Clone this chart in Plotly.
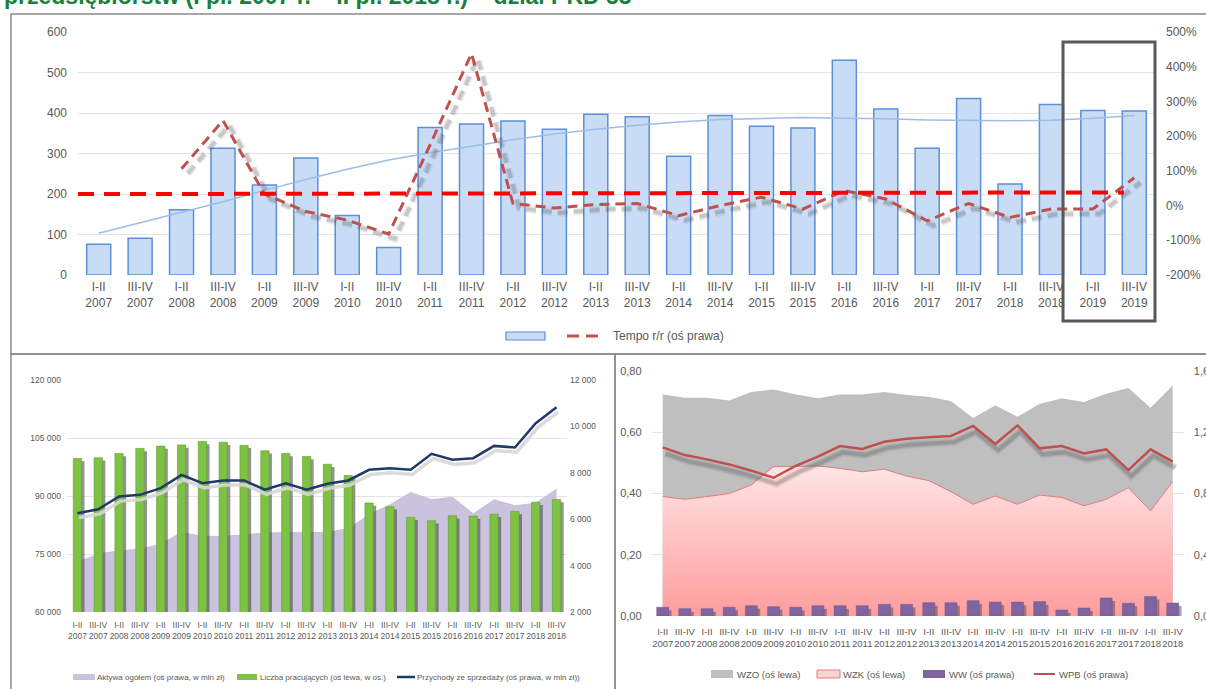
import plotly.graph_objects as go

W, H = 1206, 689


def px(x):
    return x / W


def py(y):
    return 1 - y / H


def shifted(vals, d):
    return [None if v is None else v + d for v in vals]


# ---------------- top panel: half-year values 2007-2019 ----------------
labels_top = ["I-II<br>2007", "III-IV<br>2007", "I-II<br>2008", "III-IV<br>2008", "I-II<br>2009",
              "III-IV<br>2009", "I-II<br>2010", "III-IV<br>2010", "I-II<br>2011", "III-IV<br>2011",
              "I-II<br>2012", "III-IV<br>2012", "I-II<br>2013", "III-IV<br>2013", "I-II<br>2014",
              "III-IV<br>2014", "I-II<br>2015", "III-IV<br>2015", "I-II<br>2016", "III-IV<br>2016",
              "I-II<br>2017", "III-IV<br>2017", "I-II<br>2018", "III-IV<br>2018", "I-II<br>2019",
              "III-IV<br>2019"]
values_top = [76, 91, 161, 313, 222, 289, 147, 68, 364, 373, 380, 360, 397, 391, 293, 394,
              367, 363, 530, 410, 313, 436, 225, 421, 406, 405]
trend_top = [103, 129, 155, 181, 209, 236, 261, 284, 302, 318, 334, 348, 360, 370, 378, 384,
             387, 389, 387, 386, 383, 382, 381, 382, 387, 394]
tempo_rr = [None, None, 106, 245, 33, -17, -42, -82, 175, 438, 6, -7, 3, 6, -29, 0,
            24, -10, 43, 19, -44, 6, -34, -10, -10, 80]
tempo_trend = [33, 38]
left_ticks_top = [0, 100, 200, 300, 400, 500, 600]
left_labels_top = ["0", "100", "200", "300", "400", "500", "600"]
right_ticks_top = [-200, -100, 0, 100, 200, 300, 400, 500]
right_labels_top = ["-200%", "-100%", "0%", "100%", "200%", "300%", "400%", "500%"]

# ---------------- bottom panels: half-year values 2007-2018 ----------------
labels_bottom = ["I-II<br>2007", "III-IV<br>2007", "I-II<br>2008", "III-IV<br>2008", "I-II<br>2009",
                 "III-IV<br>2009", "I-II<br>2010", "III-IV<br>2010", "I-II<br>2011", "III-IV<br>2011",
                 "I-II<br>2012", "III-IV<br>2012", "I-II<br>2013", "III-IV<br>2013", "I-II<br>2014",
                 "III-IV<br>2014", "I-II<br>2015", "III-IV<br>2015", "I-II<br>2016", "III-IV<br>2016",
                 "I-II<br>2017", "III-IV<br>2017", "I-II<br>2018", "III-IV<br>2018"]
employees = [99700, 99900, 101000, 102300, 102900, 103200, 104100, 103900, 103100, 101700,
             101000, 100200, 98200, 95300, 88200, 87200, 84500, 83600, 84900, 84800,
             85300, 86000, 88400, 89100]
assets = [4140, 4500, 4640, 4710, 4930, 5430, 5260, 5260, 5330, 5400, 5430, 5430,
          5430, 5600, 6190, 6620, 7150, 6840, 6950, 6230, 6840, 6580, 6690, 7300]
revenue = [6260, 6430, 6980, 7050, 7340, 7910, 7550, 7670, 7670, 7270, 7550, 7270,
           7530, 7670, 8130, 8200, 8130, 8820, 8560, 8630, 9160, 9090, 10140, 10830]
left_ticks_bl = [60000, 75000, 90000, 105000, 120000]
left_labels_bl = ["60 000", "75 000", "90 000", "105 000", "120 000"]
right_ticks_bl = [2000, 4000, 6000, 8000, 10000, 12000]
right_labels_bl = ["2 000", "4 000", "6 000", "8 000", "10 000", "12 000"]

wzo = [0.722, 0.711, 0.711, 0.702, 0.730, 0.738, 0.722, 0.709, 0.722, 0.722, 0.730, 0.720,
       0.714, 0.700, 0.645, 0.686, 0.649, 0.691, 0.709, 0.697, 0.724, 0.743, 0.678, 0.751]
wzk = [0.390, 0.381, 0.390, 0.400, 0.428, 0.488, 0.488, 0.490, 0.482, 0.471, 0.479, 0.457,
       0.442, 0.406, 0.365, 0.392, 0.365, 0.395, 0.387, 0.360, 0.381, 0.419, 0.343, 0.439]
ww = [0.057, 0.048, 0.048, 0.057, 0.067, 0.061, 0.057, 0.067, 0.067, 0.067, 0.076, 0.076,
      0.087, 0.087, 0.100, 0.091, 0.091, 0.094, 0.039, 0.052, 0.118, 0.083, 0.128, 0.085]
wpb = [1.101, 1.051, 1.023, 0.990, 0.949, 0.903, 0.980, 1.041, 1.110, 1.091, 1.138, 1.158,
       1.167, 1.176, 1.241, 1.123, 1.245, 1.095, 1.110, 1.062, 1.088, 0.953, 1.088, 1.008]
left_ticks_br = [0, 0.2, 0.4, 0.6, 0.8]
left_labels_br = ["0,00", "0,20", "0,40", "0,60", "0,80"]
right_ticks_br = [0, 0.4, 0.8, 1.2, 1.6]
right_labels_br = ["0,00", "0,40", "0,80", "1,20", "1,60"]

TXT = "#595959"
SANS = "Liberation Sans, Arial, sans-serif"

fig = go.Figure()

# ---- top chart
idx_t = list(range(len(labels_top)))
fig.add_trace(go.Bar(x=idx_t, y=values_top, xaxis="x", yaxis="y", width=0.58,
                     marker=dict(color="#c9dcf6", line=dict(color="#5b8fd6", width=1.5))))
fig.add_trace(go.Scatter(x=idx_t, y=trend_top, xaxis="x", yaxis="y", mode="lines",
                         line=dict(color="#9dbde8", width=1.5)))
for w, a in [(8, 0.07), (5.5, 0.11), (3.5, 0.15)]:
    fig.add_trace(go.Scatter(x=[i + 0.15 for i in idx_t], y=shifted(tempo_rr, -14), xaxis="x", yaxis="y2",
                             mode="lines", line=dict(color=f"rgba(70,70,70,{a})", width=w, dash="10px,6px")))
fig.add_trace(go.Scatter(x=idx_t, y=tempo_rr, xaxis="x", yaxis="y2", mode="lines",
                         line=dict(color="#c0504d", width=3, dash="10px,6px")))
fig.add_trace(go.Scatter(x=[idx_t[0] - 0.5, idx_t[-1] - 0.25], y=tempo_trend, xaxis="x", yaxis="y2",
                         mode="lines", line=dict(color="#ff0000", width=4, dash="16px,10px")))

# ---- bottom-left chart
idx_b = list(range(len(labels_bottom)))
fig.add_trace(go.Scatter(x=idx_b, y=assets, xaxis="x2", yaxis="y3", mode="lines", fill="tozeroy",
                         fillcolor="#cbc3dd", line=dict(color="#c2b8d6", width=0.8)))
fig.add_trace(go.Bar(x=[i + 0.14 for i in idx_b], y=shifted(employees, -700), xaxis="x2", yaxis="y4",
                     width=0.4, marker=dict(color="rgba(60,60,60,0.55)", line=dict(width=0))))
fig.add_trace(go.Bar(x=idx_b, y=employees, xaxis="x2", yaxis="y4", width=0.4,
                     marker=dict(color="#7dc242", line=dict(color="#629f31", width=0.6))))
fig.add_trace(go.Scatter(x=[i + 0.08 for i in idx_b], y=shifted(revenue, -200), xaxis="x2", yaxis="y7",
                         mode="lines", line=dict(color="rgba(215,215,215,0.9)", width=3.5)))
fig.add_trace(go.Scatter(x=idx_b, y=revenue, xaxis="x2", yaxis="y7", mode="lines",
                         line=dict(color="#1f3a68", width=2.5)))

# ---- bottom-right chart
fig.add_trace(go.Scatter(x=idx_b, y=wzo, xaxis="x3", yaxis="y5", mode="lines", fill="tozeroy",
                         fillcolor="#bfbfbf", line=dict(color="#b5b5b5", width=0.8)))
fig.add_trace(go.Scatter(x=idx_b, y=wzk, xaxis="x3", yaxis="y5", mode="lines", fill="tozeroy",
                         fillgradient=dict(type="vertical", start=0, stop=0.5,
                                           colorscale=[[0, "#ff9d9d"], [1, "#ffe6e6"]]),
                         line=dict(color="#e77a7a", width=1)))
fig.add_trace(go.Bar(x=[i + 0.13 for i in idx_b], y=shifted(ww, -0.02), xaxis="x3", yaxis="y6", width=0.54,
                     marker=dict(color="rgba(60,60,60,0.45)", line=dict(width=0))))
fig.add_trace(go.Bar(x=idx_b, y=ww, xaxis="x3", yaxis="y6", width=0.54,
                     marker=dict(color="#8064a2", line=dict(color="#6f5592", width=0.5))))
for w, a in [(8, 0.07), (5.5, 0.11), (3.5, 0.16)]:
    fig.add_trace(go.Scatter(x=[i + 0.13 for i in idx_b], y=shifted(wpb, -0.04), xaxis="x3", yaxis="y6",
                             mode="lines", line=dict(color=f"rgba(60,60,60,{a})", width=w)))
fig.add_trace(go.Scatter(x=idx_b, y=wpb, xaxis="x3", yaxis="y6", mode="lines",
                         line=dict(color="#c0504d", width=2.5)))

fig.update_traces(showlegend=False, hoverinfo="skip")

GRID = "#e4e4e4"
xcommon = dict(showgrid=False, zeroline=False, showline=False, ticks="", tickmode="array",
               tickangle=0, automargin=False)
ycommon = dict(zeroline=False, showline=False, ticks="", tickmode="array", automargin=False)

fig.update_layout(
    width=W, height=H, autosize=False,
    margin=dict(l=0, r=0, t=0, b=0, pad=0, autoexpand=False),
    paper_bgcolor="white", plot_bgcolor="white",
    barmode="overlay", showlegend=False,
    font=dict(family=SANS, color=TXT),
    xaxis=dict(**xcommon, domain=[px(78), px(1155)], range=[-0.5, len(idx_t) - 0.5], anchor="y",
               tickvals=idx_t, ticktext=labels_top, tickfont=dict(size=12, color=TXT),
               ticklabelstandoff=3),
    yaxis=dict(**ycommon, domain=[py(275), py(32)], range=[0, 600], anchor="x",
               tickvals=left_ticks_top, ticktext=left_labels_top, showgrid=True, gridcolor=GRID,
               tickfont=dict(size=12, color=TXT), ticklabelstandoff=10),
    yaxis2=dict(**ycommon, overlaying="y", side="right", range=[-200, 500], anchor="x",
                tickvals=right_ticks_top, ticktext=right_labels_top, showgrid=False,
                tickfont=dict(size=12, color=TXT), ticklabelstandoff=10),
    xaxis2=dict(**xcommon, domain=[px(67), px(567)], range=[-0.5, len(idx_b) - 0.5], anchor="y3",
                tickvals=idx_b, ticktext=labels_bottom, tickfont=dict(size=8.5, color=TXT),
                ticklabelstandoff=6),
    yaxis3=dict(**ycommon, domain=[py(612), py(380)], range=[2000, 12000], side="right", anchor="x2",
                tickvals=right_ticks_bl, ticktext=right_labels_bl, showgrid=False,
                tickfont=dict(size=8.5, color=TXT), ticklabelstandoff=2),
    yaxis4=dict(**ycommon, overlaying="y3", side="left", range=[60000, 120000], anchor="x2",
                tickvals=left_ticks_bl, ticktext=left_labels_bl, showgrid=True, gridcolor=GRID,
                tickfont=dict(size=8.5, color=TXT), ticklabelstandoff=5),
    yaxis7=dict(overlaying="y3", range=[2000, 12000], anchor="x2", visible=False, showgrid=False,
                automargin=False),
    xaxis3=dict(**xcommon, domain=[px(651.6), px(1183.8)], range=[-0.5, len(idx_b) - 0.5], anchor="y5",
                tickvals=idx_b, ticktext=labels_bottom, tickfont=dict(size=9.5, color=TXT),
                ticklabelstandoff=8),
    yaxis5=dict(**ycommon, domain=[py(616), py(371)], range=[0, 0.8], anchor="x3",
                tickvals=left_ticks_br, ticktext=left_labels_br, showgrid=True, gridcolor=GRID,
                tickfont=dict(size=11, color=TXT), ticklabelstandoff=9),
    yaxis6=dict(**ycommon, overlaying="y5", side="right", range=[0, 1.6], anchor="x3",
                tickvals=right_ticks_br, ticktext=right_labels_br, showgrid=False,
                tickfont=dict(size=11, color=TXT), ticklabelstandoff=9),
)

shapes = []
BORDER = dict(color="#8a8a8a", width=1.5)
# panel frames
shapes.append(dict(type="rect", xref="paper", yref="paper", x0=px(11), x1=px(1212), y0=py(354), y1=py(14),
                   line=BORDER))
shapes.append(dict(type="rect", xref="paper", yref="paper", x0=px(11), x1=px(615), y0=py(695), y1=py(354),
                   line=BORDER))
shapes.append(dict(type="rect", xref="paper", yref="paper", x0=px(615), x1=px(1212), y0=py(695), y1=py(354),
                   line=BORDER))
# frame around the 2019 half-years
shapes.append(dict(type="rect", xref="paper", yref="paper", x0=px(1063), x1=px(1155), y0=py(321), y1=py(42),
                   line=dict(color="#595959", width=3)))

annotations = []


def legend_text(x, y, text, size):
    annotations.append(dict(xref="paper", yref="paper", x=px(x), y=py(y), xanchor="left", yanchor="middle",
                            text=text, showarrow=False, font=dict(size=size, color=TXT, family=SANS)))


def legend_box(x0, x1, y0, y1, fill, line_color=None, lw=0):
    shapes.append(dict(type="rect", xref="paper", yref="paper", x0=px(x0), x1=px(x1), y0=py(y1), y1=py(y0),
                       fillcolor=fill, line=dict(color=line_color or fill, width=lw)))


def legend_line(x0, x1, y, color, width, dash="solid"):
    shapes.append(dict(type="line", xref="paper", yref="paper", x0=px(x0), x1=px(x1), y0=py(y), y1=py(y),
                       line=dict(color=color, width=width, dash=dash)))


# top legend
legend_box(506, 545, 332, 340, "#c9dcf6", "#5b8fd6", 1.2)
legend_line(567, 598, 336, "#c0504d", 3, "12px,7px")
legend_text(611, 336, "Tempo r/r (oś prawa)", 12)

# bottom-left legend
legend_box(73, 95, 674, 680, "#cbc3dd")
legend_text(95, 677, "Aktywa ogółem (oś prawa, w mln zł)", 8)
legend_box(237, 257, 674, 680, "#7dc242")
legend_text(258, 677, "Liczba pracujących (oś lewa, w os.)", 8)
legend_line(397, 415, 677, "#1f3a68", 2.5)
legend_text(415, 677, "Przychody ze sprzedaży (oś prawa, w mln zł))", 8)

# bottom-right legend
legend_box(711, 733, 670, 678, "#bfbfbf")
legend_text(735, 674, "WZO (oś lewa)", 9.5)
legend_box(817, 840, 670, 678, "#ffd2d2", "#e77a7a", 1)
legend_text(841, 674, "WZK (oś lewa)", 9.5)
legend_box(923, 945, 670, 678, "#8064a2")
legend_text(947, 674, "WW (oś prawa)", 9.5)
legend_line(1034, 1055, 674, "#c0504d", 2)
legend_text(1057, 674, "WPB (oś prawa)", 9.5)

# heading (top edge of the page)
annotations.append(dict(xref="paper", yref="paper", x=px(2), y=py(-4), xanchor="left", yanchor="middle",
                        text="przedsiębiorstw (I pł. 2007 r. – II pł. 2018 r.) – dział PKD 53", showarrow=False,
                        font=dict(size=23, color="#17803d", family=SANS, weight="bold")))

fig.update_layout(shapes=shapes, annotations=annotations)

fig.write_html("out.html")
